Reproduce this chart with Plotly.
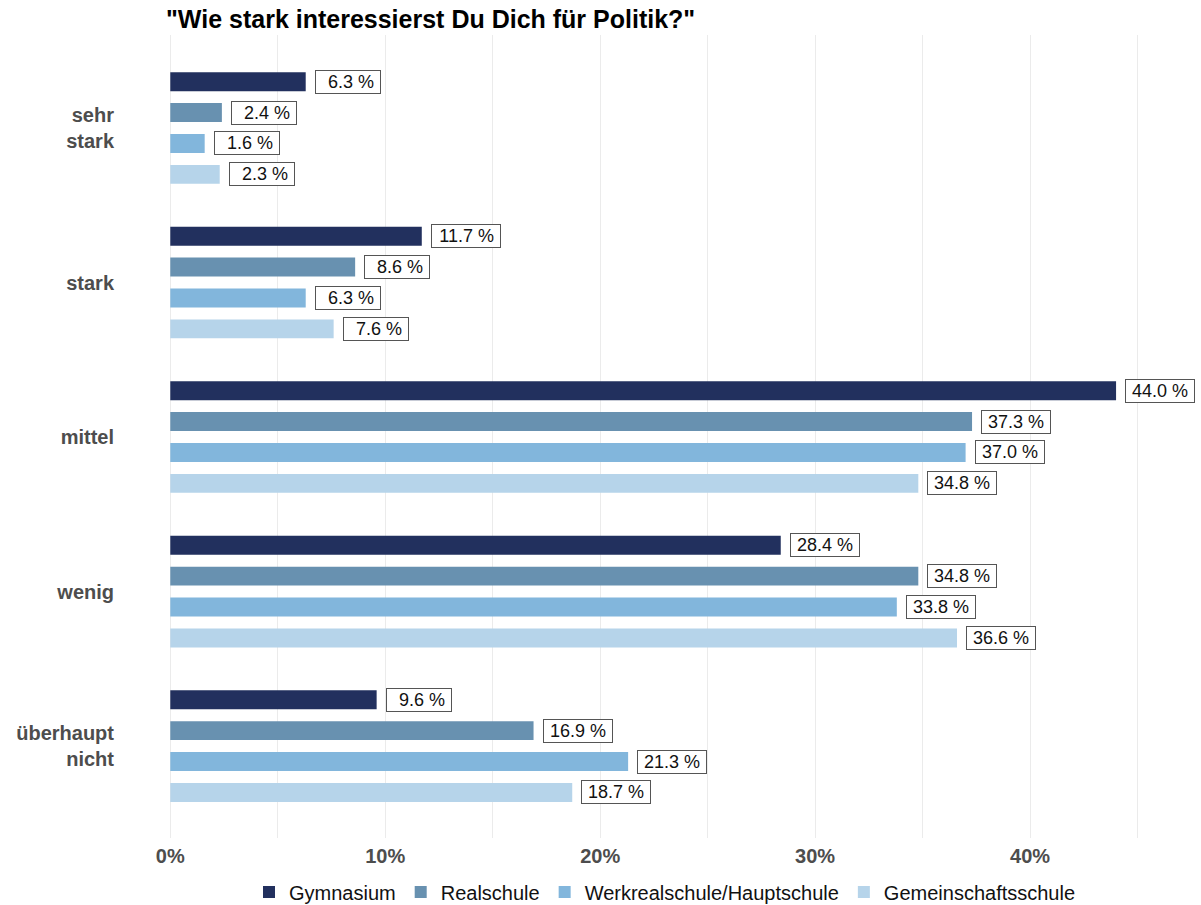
import plotly.graph_objects as go

# Survey answers (top to bottom) and school types
categories = ["sehr<br>stark", "stark", "mittel", "wenig", "überhaupt<br>nicht"]
schools = ["Gymnasium", "Realschule", "Werkrealschule/Hauptschule", "Gemeinschaftsschule"]

# Share of pupils per answer, in percent
gymnasium = [6.3, 11.7, 44.0, 28.4, 9.6]
realschule = [2.4, 8.6, 37.3, 34.8, 16.9]
werkrealschule = [1.6, 6.3, 37.0, 33.8, 21.3]
gemeinschaftsschule = [2.3, 7.6, 34.8, 36.6, 18.7]

series = [gymnasium, realschule, werkrealschule, gemeinschaftsschule]
colors = ["#22305e", "#6891b0", "#82b6dc", "#b6d4ea"]

FONT = "Liberation Sans, Arial, sans-serif"
BARGAP = 0.2
BARGROUPGAP = 0.387
n = len(schools)
slot = (1 - BARGAP) / n

fig = go.Figure()
for name, vals, col in zip(schools, series, colors):
    fig.add_trace(go.Bar(
        x=vals, y=categories, orientation="h", name=name,
        marker=dict(color=col, line=dict(width=0)),
        hoverinfo="x+y+name",
    ))

# Boxed value labels at the end of every bar
annotations = []
for i, vals in enumerate(series):
    offset = (i - (n - 1) / 2) * slot
    for j, v in enumerate(vals):
        annotations.append(dict(
            x=v, y=j + offset, xref="x", yref="y",
            text=f"{v:.1f}\u00a0%\u00a0",
            showarrow=False, xanchor="left", yanchor="middle", xshift=9,
            align="right", width=62 if v < 10 else 66, height=20,
            font=dict(family=FONT, size=18, color="#111111"),
            bgcolor="white", bordercolor="#555555", borderwidth=1, borderpad=1,
        ))

fig.update_layout(
    width=1201, height=905,
    margin=dict(l=123, r=14, t=35, b=67, autoexpand=False),
    paper_bgcolor="white", plot_bgcolor="white",
    barmode="group", bargap=BARGAP, bargroupgap=BARGROUPGAP,
    font=dict(family=FONT, color="#4d4d4d"),
    title=dict(
        text='"Wie stark interessierst Du Dich für Politik?"',
        font=dict(family=FONT, size=25, color="black", weight="bold"),
        xref="container", x=166 / 1201, xanchor="left",
        yref="container", y=1 - 19 / 905, yanchor="middle",
    ),
    xaxis=dict(
        range=[-2.2, 47.3], dtick=10, tick0=0, ticksuffix="%",
        showgrid=True, gridcolor="#ebebeb", gridwidth=1,
        minor=dict(dtick=5, tick0=0, showgrid=True, gridcolor="#ebebeb", gridwidth=1),
        zeroline=False, showline=False, ticks="",
        tickfont=dict(family=FONT, size=20, color="#4d4d4d", weight="bold"),
        ticklabelstandoff=4,
    ),
    yaxis=dict(
        categoryorder="array", categoryarray=categories,
        range=[4.595, -0.602],
        showgrid=False, zeroline=False, showline=False, ticks="",
        tickfont=dict(family=FONT, size=20, color="#4d4d4d", weight="bold"),
        ticklabelstandoff=8,
    ),
    legend=dict(
        orientation="h", traceorder="normal",
        xref="container", x=665 / 1201, xanchor="center",
        yref="container", y=1 - 892 / 905, yanchor="middle",
        font=dict(family=FONT, size=20, color="#111111"),
        itemwidth=30, bgcolor="rgba(0,0,0,0)",
    ),
    annotations=annotations,
    showlegend=True,
)

fig.write_html("out.html")
